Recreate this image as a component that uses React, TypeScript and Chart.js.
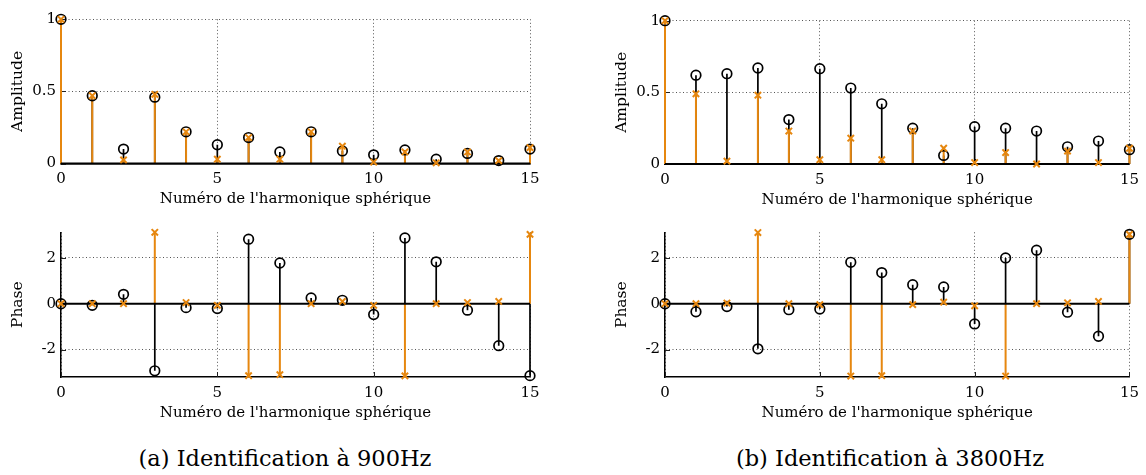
import React, { useEffect, useRef } from 'react';
import { Chart, registerables } from 'chart.js';

Chart.register(...registerables);

// ---------- data ----------
const harmonics = [0, 1, 2, 3, 4, 5, 6, 7, 8, 9, 10, 11, 12, 13, 14, 15];

const xTickValues = [0, 5, 10, 15];
const ampTickValues = [0, 0.5, 1];
const phaseTickValues = [-2, 0, 2];

// (a) 900 Hz
const ampRef900 = [1, 0.47, 0.1, 0.46, 0.22, 0.13, 0.18, 0.08, 0.22, 0.087, 0.06, 0.094, 0.03, 0.07, 0.02, 0.1];
const ampId900 = [1, 0.47, 0.025, 0.48, 0.22, 0.03, 0.18, 0.03, 0.22, 0.12, 0.01, 0.08, 0.005, 0.08, 0.02, 0.11];
const phaseRef900 = [0, -0.07, 0.41, -2.93, -0.17, -0.21, 2.82, 1.78, 0.25, 0.15, -0.47, 2.87, 1.83, -0.28, -1.83, -3.14];
const phaseId900 = [0, 0, 0, 3.12, 0.05, -0.07, -3.14, -3.1, 0, 0.1, -0.07, -3.15, 0, 0.05, 0.1, 3.03];

// (b) 3800 Hz
const ampRef3800 = [1, 0.62, 0.63, 0.67, 0.31, 0.665, 0.53, 0.42, 0.25, 0.06, 0.26, 0.25, 0.23, 0.12, 0.16, 0.1];
const ampId3800 = [1, 0.49, 0.02, 0.48, 0.23, 0.03, 0.18, 0.03, 0.23, 0.11, 0.01, 0.08, 0.0, 0.09, 0.01, 0.11];
const phaseRef3800 = [0, -0.35, -0.12, -1.97, -0.26, -0.23, 1.81, 1.36, 0.83, 0.73, -0.88, 2.0, 2.34, -0.37, -1.42, 3.03];
const phaseId3800 = [0, 0, 0.03, 3.11, 0, -0.04, -3.16, -3.14, -0.04, 0.07, -0.09, -3.16, 0, 0.04, 0.1, 3.03];

const xTitle = "Numéro de l'harmonique sphérique";
const captionA = '(a) Identification à 900Hz';
const captionB = '(b) Identification à 3800Hz';

// ---------- styles ----------
const ORANGE = 'rgb(230,135,15)';
const GRID = '#555';
const FONT = "'DejaVu Serif', 'Liberation Serif', serif";

// inward tick marks (MATLAB style)
const innerTicks = {
  id: 'innerTicks',
  beforeDatasetsDraw(chart: any) {
    const { ctx, chartArea, scales } = chart;
    ctx.save();
    ctx.strokeStyle = '#222';
    ctx.lineWidth = 1;
    ctx.beginPath();
    for (const t of scales.x.ticks) {
      const px = Math.round(scales.x.getPixelForValue(t.value)) + 0.5;
      ctx.moveTo(px, chartArea.bottom);
      ctx.lineTo(px, chartArea.bottom - 5);
    }
    for (const t of scales.y.ticks) {
      const py = Math.round(scales.y.getPixelForValue(t.value)) + 0.5;
      ctx.moveTo(chartArea.left, py);
      ctx.lineTo(chartArea.left + 5, py);
    }
    ctx.stroke();
    ctx.restore();
  },
};

type PanelProps = {
  left: number;
  top: number;
  width: number;
  height: number;
  padTop: number;
  padRight: number;
  padBottom: number;
  yWidth: number;
  xHeight: number;
  yMin: number;
  yMax: number;
  yTicks: number[];
  yTitle: string;
  refVals: number[];
  idVals: number[];
};

function StemPanel(p: PanelProps) {
  const ref = useRef<HTMLCanvasElement>(null);
  useEffect(() => {
    const stems = (vals: number[]) =>
      vals.flatMap((v, i) => [
        { x: harmonics[i], y: 0 },
        { x: harmonics[i], y: v },
        { x: harmonics[i], y: null },
      ]);
    const pts = (vals: number[]) => vals.map((v, i) => ({ x: harmonics[i], y: v }));
    const tickFont = { family: FONT, size: 15 };
    const chart = new Chart(ref.current as HTMLCanvasElement, {
      type: 'scatter',
      plugins: [innerTicks],
      data: {
        datasets: [
          {
            label: 'identifié',
            data: pts(p.idVals),
            pointStyle: 'crossRot',
            pointRadius: 4.5,
            pointBorderColor: ORANGE,
            pointBackgroundColor: ORANGE,
            pointBorderWidth: 2,
            borderColor: ORANGE,
            showLine: false,
            clip: false,
          } as any,
          {
            label: 'référence',
            data: pts(p.refVals),
            pointStyle: 'circle',
            pointRadius: 4.8,
            pointBorderColor: '#000',
            pointBackgroundColor: 'rgba(0,0,0,0)',
            pointBorderWidth: 1.7,
            borderColor: '#000',
            showLine: false,
            clip: false,
          } as any,
          {
            type: 'line',
            label: 'base',
            data: [
              { x: harmonics[0], y: 0 },
              { x: harmonics[harmonics.length - 1], y: 0 },
            ],
            borderColor: '#000',
            borderWidth: 2,
            pointRadius: 0,
            clip: false,
          } as any,
          {
            type: 'line',
            label: 'tiges identifié',
            data: stems(p.idVals),
            borderColor: ORANGE,
            borderWidth: 2,
            pointRadius: 0,
            spanGaps: false,
            clip: false,
          } as any,
          {
            type: 'line',
            label: 'tiges référence',
            data: stems(p.refVals),
            borderColor: '#000',
            borderWidth: 1.7,
            pointRadius: 0,
            spanGaps: false,
            clip: false,
          } as any,
        ],
      },
      options: {
        animation: false,
        responsive: false,
        maintainAspectRatio: false,
        events: [],
        layout: { padding: { left: 0, right: p.padRight, top: p.padTop, bottom: p.padBottom } },
        plugins: { legend: { display: false }, tooltip: { enabled: false }, title: { display: false } },
        scales: {
          x: {
            type: 'linear',
            min: 0,
            max: 15,
            afterBuildTicks: (s: any) => {
              s.ticks = xTickValues.map((value) => ({ value }));
            },
            afterFit: (s: any) => {
              s.height = p.xHeight;
            },
            grid: { color: GRID, lineWidth: 1, drawTicks: false },
            border: { display: true, color: '#000', width: 1.5, dash: [1, 2.5] },
            ticks: {
              padding: 7,
              color: '#000',
              font: tickFont,
              maxRotation: 0,
              callback: (v: any) => String(v),
            },
            title: {
              display: true,
              text: xTitle,
              color: '#000',
              font: { family: FONT, size: 15 },
              padding: { top: 0, bottom: 0 },
            },
          },
          y: {
            type: 'linear',
            min: p.yMin,
            max: p.yMax,
            afterBuildTicks: (s: any) => {
              s.ticks = p.yTicks.map((value) => ({ value }));
            },
            afterFit: (s: any) => {
              s.width = p.yWidth;
            },
            grid: { color: GRID, lineWidth: 1, drawTicks: false },
            border: { display: true, color: '#000', width: 1.5, dash: [1, 2.5] },
            ticks: { padding: 5, color: '#000', font: tickFont, callback: (v: any) => String(v) },
            title: {
              display: true,
              text: p.yTitle,
              color: '#000',
              font: { family: FONT, size: 15.5 },
              padding: { top: 8.5, bottom: 0 },
            },
          },
        },
      } as any,
    });
    return () => chart.destroy();
  }, []);
  return (
    <div style={{ position: 'absolute', left: p.left, top: p.top, width: p.width, height: p.height }}>
      <canvas ref={ref} width={p.width} height={p.height} style={{ width: p.width, height: p.height }} />
    </div>
  );
}

const captionStyle = (cx: number, cy: number): React.CSSProperties => ({
  position: 'absolute',
  left: cx - 250,
  top: cy - 14,
  width: 500,
  textAlign: 'center',
  fontFamily: FONT,
  fontSize: 22.5,
  lineHeight: '28px',
  color: '#000',
  whiteSpace: 'nowrap',
});

export default function App() {
  return (
    <div style={{ position: 'absolute', left: 0, top: 0, width: 1146, height: 475, background: '#fff' }}>
      <StemPanel
        left={0} top={0} width={560} height={215}
        padTop={19.3} padRight={30} padBottom={6.5} yWidth={61} xHeight={45}
        yMin={0} yMax={1} yTicks={ampTickValues} yTitle="Amplitude"
        refVals={ampRef900} idVals={ampId900}
      />
      <StemPanel
        left={0} top={215} width={560} height={215}
        padTop={17.3} padRight={30} padBottom={8} yWidth={61} xHeight={45}
        yMin={-3.2} yMax={3.12} yTicks={phaseTickValues} yTitle="Phase"
        refVals={phaseRef900} idVals={phaseId900}
      />
      <StemPanel
        left={604} top={0} width={542} height={215}
        padTop={20.7} padRight={11} padBottom={6} yWidth={61} xHeight={45}
        yMin={0} yMax={1} yTicks={ampTickValues} yTitle="Amplitude"
        refVals={ampRef3800} idVals={ampId3800}
      />
      <StemPanel
        left={604} top={215} width={542} height={215}
        padTop={17.3} padRight={11} padBottom={8} yWidth={61} xHeight={45}
        yMin={-3.2} yMax={3.12} yTicks={phaseTickValues} yTitle="Phase"
        refVals={phaseRef3800} idVals={phaseId3800}
      />
      <div style={captionStyle(285, 458)}>{captionA}</div>
      <div style={captionStyle(890, 458)}>{captionB}</div>
    </div>
  );
}
